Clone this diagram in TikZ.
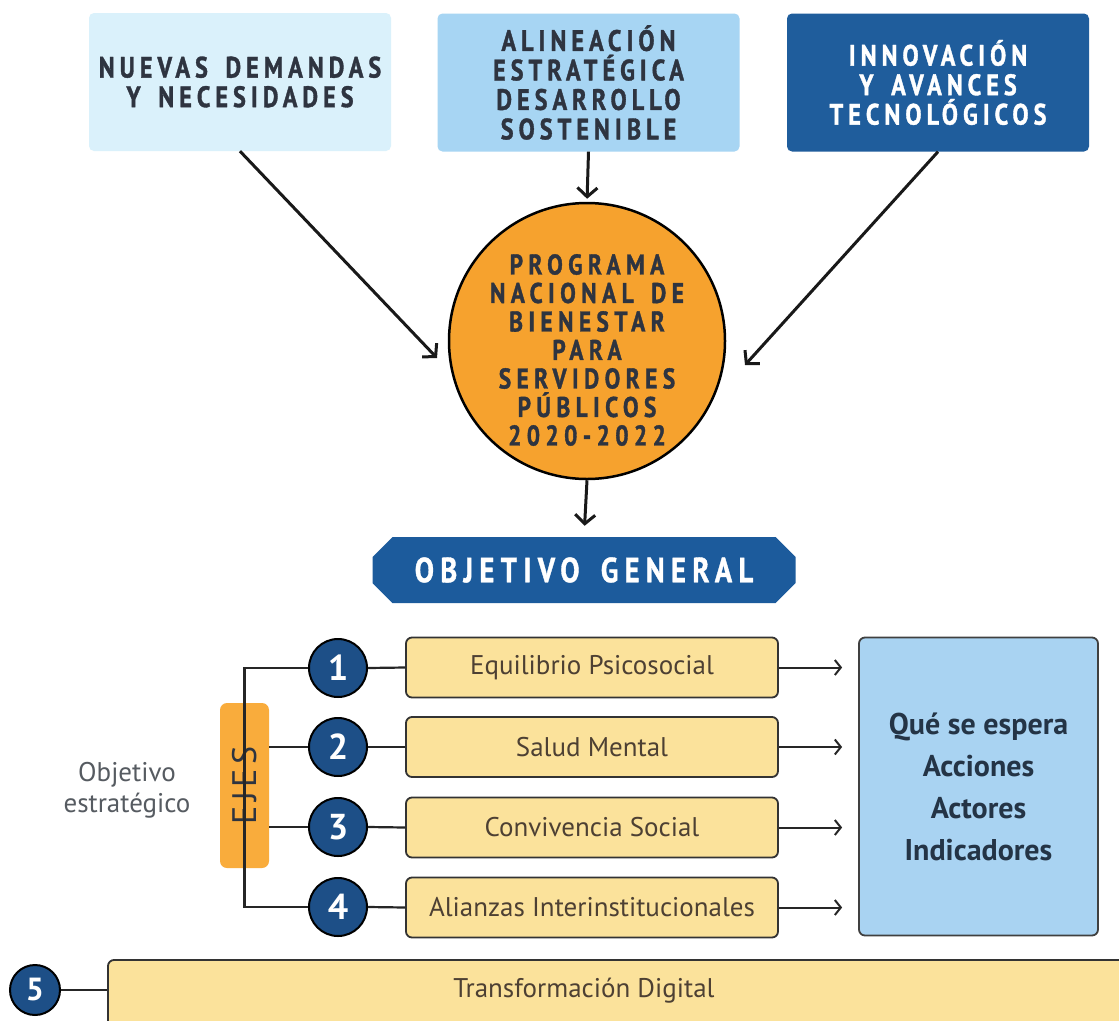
\documentclass[tikz,border=0pt]{standalone}
\usepackage{fontspec}
\setmainfont{PT Sans}
\newfontfamily\topfont{PT Sans}[FakeStretch=0.82,LetterSpace=17,FakeBold=1.2]
\newfontfamily\circfont{PT Sans}[FakeStretch=0.82,LetterSpace=19,FakeBold=1.2]
\newfontfamily\objfont{PT Sans}[FakeStretch=0.82,LetterSpace=18,FakeBold=1]
\newfontfamily\ejesfont{PT Sans}[LetterSpace=14]
\newcommand\wsp{\hspace{0.22em}}
\usetikzlibrary{arrows.meta,shapes.misc}
\definecolor{boxA}{HTML}{DAF1FB}
\definecolor{boxB}{HTML}{A7D5F3}
\definecolor{boxC}{HTML}{1F5D9C}
\definecolor{darktxt}{HTML}{2E3440}
\definecolor{circfill}{HTML}{F6A22E}
\definecolor{objfill}{HTML}{1C5B9C}
\definecolor{ejesfill}{HTML}{F9AC3C}
\definecolor{numfill}{HTML}{1D4F87}
\definecolor{yelfill}{HTML}{FBE29B}
\definecolor{yeltxt}{HTML}{4D4033}
\definecolor{rbfill}{HTML}{A9D3F2}
\definecolor{rbtxt}{HTML}{243446}
\definecolor{graytxt}{HTML}{565B61}
\begin{document}
\begin{tikzpicture}[x=1pt,y=-1pt,
  topbox/.style={rounded corners=5pt, minimum width=302pt, minimum height=138pt,
    inner sep=0pt, align=center, font=\topfont\bfseries\fontsize{29.5}{29.5}\selectfont},
  numc/.style={circle, draw=black, line width=2pt, fill=numfill, minimum size=58pt,
    inner sep=0pt, text=white, font=\bfseries\fontsize{36}{36}\selectfont},
  yelbox/.style={draw=black!80, line width=1.8pt, fill=yelfill, rounded corners=6pt,
    minimum width=372pt, minimum height=60pt, inner sep=0pt, text=yeltxt,
    font=\fontsize{27}{27}\selectfont},
  conn/.style={line width=2.2pt, draw=black!85},
  bigarrow/.style={line width=3pt, draw=black!90, -{Straight Barb[length=9pt,width=20pt,line width=3pt]}},
  smallarrow/.style={line width=2pt, draw=black!85, -{Straight Barb[length=6pt,width=15pt,line width=2pt]}}
]
\useasboundingbox (0,0) rectangle (1119,1020);
\clip (0,0) rectangle (1119,1020);
\fill[white] (0,0) rectangle (1119,1020);

% top boxes
\node[topbox, fill=boxA, text=darktxt] (b1) at (240,82) {NUEVAS\wsp{} DEMANDAS\\Y\wsp{} NECESIDADES};
\node[topbox, fill=boxB, text=darktxt] (b2) at (588.5,82.5) {ALINEACIÓN\\ESTRATÉGICA\\DESARROLLO\\SOSTENIBLE};
\node[topbox, fill=boxC, text=white] (b3) at (938,82.5) {INNOVACIÓN\\Y\wsp{} AVANCES\\TECNOLÓGICOS};

% central circle
\node[circle, draw=black, line width=2.5pt, fill=circfill, minimum size=276pt, inner sep=0pt]
  (circ) at (587,341) {};
\node[align=center, text=darktxt, inner sep=0pt, font=\circfont\bfseries\fontsize{28.5}{28.5}\selectfont]
  (circtxt) at (587,350) {PROGRAMA\\NACIONAL\wsp{} DE\\BIENESTAR\\PARA\\SERVIDORES\\PÚBLICOS\\2020-2022};

\coordinate (t1) at (437,358);
\coordinate (t3) at (745,365);
\draw[bigarrow] (b1.south) -- (t1);
\draw[bigarrow] (b3.south) -- (t3);
\draw[bigarrow, shorten >=3pt] (b2.south) -- (circ.north);

% objetivo general
\node[chamfered rectangle, chamfered rectangle xsep=10pt, chamfered rectangle ysep=10pt,
  fill=objfill, minimum width=423pt, minimum height=66pt, inner sep=0pt, text=white,
  font=\objfont\bfseries\fontsize{35}{35}\selectfont] (obj) at (584,570) {OBJETIVO\wsp{} GENERAL};
\draw[bigarrow, shorten >=11pt] (circ.south) -- (obj.north);

% EJES
\node[rotate=90, fill=ejesfill, rounded corners=7pt, minimum width=165pt, minimum height=49pt,
  inner sep=0pt, text=darktxt, font=\ejesfont\fontsize{34}{34}\selectfont] (ejes) at (244.5,785.5) {EJES};

\node[align=center, text=graytxt, font=\fontsize{27}{31}\selectfont] (objest) at (127,790) {Objetivo\\estratégico};

% numbered circles
\node[numc] (n1) at (338,668) {1};
\node[numc] (n2) at (338,747) {2};
\node[numc] (n3) at (338,827) {3};
\node[numc] (n4) at (338,907) {4};

% yellow boxes
\node[yelbox] (y1) at (592,667.5) {Equilibrio Psicosocial};
\node[yelbox] (y2) at (592,747) {Salud Mental};
\node[yelbox] (y3) at (592,827.5) {Convivencia Social};
\node[yelbox] (y4) at (592,907.5) {Alianzas Interinstitucionales};

% right box
\node[draw=black!75, line width=1.8pt, fill=rbfill, rounded corners=6pt, minimum width=239pt,
  minimum height=298pt, inner sep=0pt, align=center, text=rbtxt,
  font=\bfseries\fontsize{30}{42}\selectfont] (rb) at (978.5,786.5)
  {Qué se espera\\Acciones\\Actores\\Indicadores};

% connectors EJES
\draw[conn] (ejes.west) |- (n1.west);
\draw[conn] (ejes.east) |- (n4.west);
\draw[conn] (n2.west -| ejes.south) -- (n2.west);
\draw[conn] (n3.west -| ejes.south) -- (n3.west);
\foreach \i in {1,2,3,4} {
  \draw[conn] (n\i.east) -- (y\i.west);
  \draw[smallarrow, shorten >=16pt] (y\i.east) -- (y\i.east -| rb.west);
}

% bottom bar
\node[numc, minimum size=50pt, font=\bfseries\fontsize{32}{32}\selectfont] (n5) at (35,990) {5};
\node[draw=black!80, line width=1.8pt, fill=yelfill, rounded corners=6pt, minimum width=1052pt,
  minimum height=70pt, inner sep=0pt] (bar) at (634,995) {};
\node[text=yeltxt, font=\fontsize{27}{27}\selectfont] (tdig) at (584,991) {Transformación Digital};
\draw[conn] (n5.east) -- (n5.east -| bar.west);
\end{tikzpicture}
\end{document}
